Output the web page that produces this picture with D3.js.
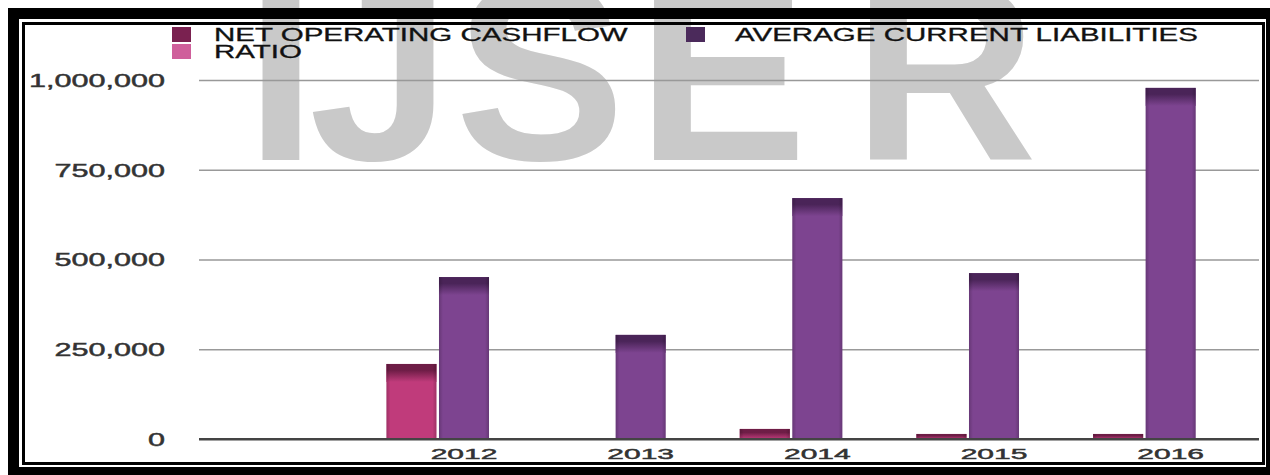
<!DOCTYPE html>
<html>
<head>
<meta charset="utf-8">
<script src="https://cdn.jsdelivr.net/npm/d3@7/dist/d3.min.js"></script>
<style>
  html, body { margin: 0; padding: 0; background: #ffffff; }
  svg { display: block; }
</style>
</head>
<body>
<svg id="chart" width="1270" height="475"></svg>
<script>
// ---- data ----
const years = ["2012", "2013", "2014", "2015", "2016"];
const seriesNames = ["NET OPERATING CASHFLOW", "AVERAGE CURRENT LIABILITIES", "RATIO"];
const netOperatingCashflow = [209000, 0, 28000, 14000, 14000];
const averageCurrentLiabilities = [451000, 290000, 671000, 462000, 978000];
const ratio = [0.46, 0, 0.04, 0.03, 0.014];
const yTicks = [0, 250000, 500000, 750000, 1000000];
const watermarkLetters = ["I", "J", "S", "E", "R"];

// ---- styles ----
const FONT = "'Liberation Sans', Arial, Helvetica, sans-serif";
const seriesStyle = [
  { body: "#c03b7b", top: "#6e1d46", swatch: "#7a2150" },
  { body: "#7d4490", top: "#4a2458", swatch: "#4b2a5b" },
  { body: "#cc5a98", top: "#a83c78", swatch: "#cf5f9b" }
];

const svg = d3.select("#chart");
const W = 1270, H = 475;
svg.append("rect").attr("width", W).attr("height", H).attr("fill", "#fff");

// watermark (behind everything)
const wmCenters = [281, 380, 540, 722, 945];
const wm = svg.append("text")
  .attr("font-family", FONT)
  .attr("font-weight", "bold")
  .attr("font-size", 255)
  .attr("fill", "#c9c9c9")
  .attr("text-anchor", "middle");
watermarkLetters.forEach((ch, i) => {
  wm.append("tspan").attr("x", wmCenters[i]).attr("y", 160).text(ch);
});

// gradients for bar tops
const defs = svg.append("defs");
seriesStyle.forEach((s, i) => {
  const g = defs.append("linearGradient").attr("id", "cap" + i)
    .attr("x1", 0).attr("y1", 0).attr("x2", 0).attr("y2", 1);
  g.append("stop").attr("offset", "0%").attr("stop-color", s.top);
  g.append("stop").attr("offset", "35%").attr("stop-color", s.top);
  g.append("stop").attr("offset", "100%").attr("stop-color", s.body);
  const e = defs.append("linearGradient").attr("id", "side" + i)
    .attr("x1", 0).attr("y1", 0).attr("x2", 1).attr("y2", 0);
  e.append("stop").attr("offset", "0%").attr("stop-color", "#000").attr("stop-opacity", 0.18);
  e.append("stop").attr("offset", "8%").attr("stop-color", "#000").attr("stop-opacity", 0);
  e.append("stop").attr("offset", "92%").attr("stop-color", "#000").attr("stop-opacity", 0);
  e.append("stop").attr("offset", "100%").attr("stop-color", "#000").attr("stop-opacity", 0.18);
});

// scales
const plotLeft = 199, plotRight = 1259, y0 = 439, yTop = 80;
const x = d3.scaleBand().domain(years).range([plotLeft, plotRight])
  .paddingInner(0).paddingOuter(0.5).align(1);
const xInner = d3.scaleBand().domain([0, 1, 2]).range([0, x.bandwidth()])
  .paddingInner(0.048).paddingOuter(0.205);
const y = d3.scaleLinear().domain([0, 1000000]).range([y0, yTop]);

// y axis + gridlines
const ySX = 1.7;
const yAxis = svg.append("g").attr("transform", `translate(${plotLeft},0)`)
  .call(d3.axisLeft(y).tickValues(yTicks).tickFormat(d3.format(","))
    .tickSize(-(plotRight - plotLeft)).tickPadding(34));
yAxis.select(".domain").remove();
yAxis.selectAll(".tick line")
  .attr("stroke", d => d === 0 ? "#444" : "#999")
  .attr("stroke-width", d => d === 0 ? 2 : 1.6);
yAxis.selectAll(".tick text")
  .attr("font-family", FONT).attr("font-size", 18).attr("fill", "#333")
  .attr("stroke", "#333").attr("stroke-width", 0.45)
  .attr("x", -34 / ySX).attr("dy", "0.36em")
  .attr("transform", `scale(${ySX},1)`);

// bars
const series = [netOperatingCashflow, averageCurrentLiabilities, ratio];
series.forEach((vals, si) => {
  const g = svg.append("g");
  const data = years.map((yr, i) => ({ yr, v: vals[i] }));
  const bx = d => x(d.yr) + xInner(si);
  const bw = xInner.bandwidth();
  g.selectAll("rect.body").data(data).join("rect").attr("class", "body")
    .attr("x", bx).attr("width", bw)
    .attr("y", d => y(d.v)).attr("height", d => y0 - y(d.v))
    .attr("fill", seriesStyle[si].body);
  g.selectAll("rect.cap").data(data).join("rect").attr("class", "cap")
    .attr("x", bx).attr("width", bw)
    .attr("y", d => y(d.v)).attr("height", d => Math.min(y0 - y(d.v), 18))
    .attr("fill", `url(#cap${si})`);
  g.selectAll("rect.side").data(data).join("rect").attr("class", "side")
    .attr("x", bx).attr("width", bw)
    .attr("y", d => y(d.v)).attr("height", d => y0 - y(d.v))
    .attr("fill", `url(#side${si})`);
});

// redraw zero line over bars
svg.append("line").attr("x1", plotLeft).attr("x2", plotRight)
  .attr("y1", y(0)).attr("y2", y(0)).attr("stroke", "#444").attr("stroke-width", 2);

// x axis labels
const xSX = 2.0;
const xAxis = svg.append("g").attr("transform", `translate(${xInner(1) + xInner.bandwidth() / 2 - x.bandwidth() / 2},${y0})`)
  .call(d3.axisBottom(x).tickSize(0).tickPadding(0));
xAxis.select(".domain").remove();
xAxis.selectAll(".tick text")
  .attr("font-family", FONT).attr("font-size", 15).attr("fill", "#333")
  .attr("stroke", "#333").attr("stroke-width", 0.45)
  .attr("y", 14.5).attr("dy", "0.36em")
  .attr("transform", `scale(${xSX},1)`)
  .attr("x", 0);

// legend
const legSX = 1.64;
const legendItems = [
  { name: seriesNames[0], sx: 172, tx: 214, yy: 27, c: seriesStyle[0].swatch },
  { name: seriesNames[1], sx: 686, tx: 735, yy: 27, c: seriesStyle[1].swatch },
  { name: seriesNames[2], sx: 172, tx: 214, yy: 44, c: seriesStyle[2].swatch }
];
const leg = svg.append("g");
legendItems.forEach(it => {
  leg.append("rect").attr("x", it.sx).attr("y", it.yy).attr("width", 19).attr("height", 15).attr("fill", it.c);
  leg.append("text").attr("font-family", FONT).attr("font-size", 18).attr("fill", "#111")
    .attr("stroke", "#111").attr("stroke-width", 0.3)
    .attr("transform", `translate(${it.tx},${it.yy + 14}) scale(${legSX},1)`)
    .text(it.name);
});

// frame
svg.append("rect").attr("x", 13.5).attr("y", 13.5).attr("width", 1258).attr("height", 459)
  .attr("fill", "none").attr("stroke", "#000").attr("stroke-width", 11);
svg.append("rect").attr("x", 23.5).attr("y", 23.5).attr("width", 1240).attr("height", 440)
  .attr("fill", "none").attr("stroke", "#000").attr("stroke-width", 3);
</script>
</body>
</html>
